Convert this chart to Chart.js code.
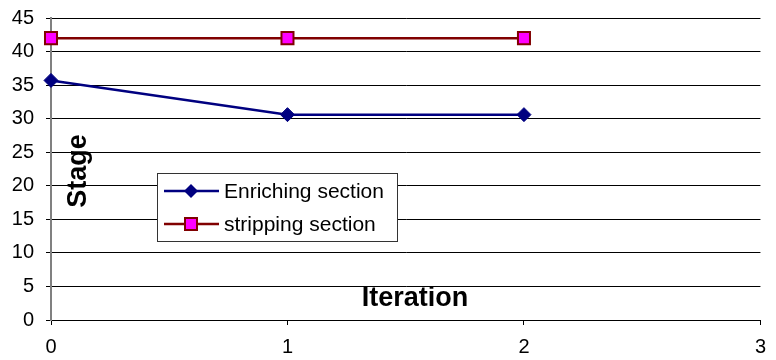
<!DOCTYPE html>
<html>
<head>
<meta charset="utf-8">
<script src="https://cdn.jsdelivr.net/npm/chart.js@4"></script>
<style>
  html, body { margin: 0; padding: 0; background: #fff; }
  #wrap { width: 776px; height: 360px; position: relative; }
</style>
</head>
<body>
<div id="wrap"><canvas id="stageChart"></canvas></div>
<script>
const iterations = [0, 1, 2];
const enriching = [35.7, 30.6, 30.6];
const stripping = [42, 42, 42];
const seriesNames = ['Enriching section', 'stripping section'];

const fontFamily = '"Liberation Sans", Arial, sans-serif';
const navy = '#000080';
const darkRed = '#800000';
const magenta = '#ff00ff';

function toPoints(xs, ys) {
    return xs.map((x, i) => ({ x: x, y: ys[i] }));
}

// legend box and axis titles sit inside the plot area, so draw them by hand
const overlayPlugin = {
    id: 'overlay',
    afterDraw(chart) {
        const ctx = chart.ctx;
        const area = chart.chartArea;
        ctx.save();

        // legend
        const bx = area.left + 106, by = area.top + 155, bw = 240, bh = 68;
        ctx.fillStyle = '#fff';
        ctx.fillRect(bx, by, bw, bh);
        ctx.strokeStyle = '#333';
        ctx.lineWidth = 1;
        ctx.strokeRect(bx + 0.5, by + 0.5, bw, bh);

        const rows = [by + 18, by + 51];
        const lx1 = bx + 7, lx2 = bx + 62, mx = bx + 34;

        ctx.lineWidth = 2.5;
        ctx.strokeStyle = navy;
        ctx.beginPath(); ctx.moveTo(lx1, rows[0]); ctx.lineTo(lx2, rows[0]); ctx.stroke();
        ctx.fillStyle = navy;
        ctx.beginPath();
        ctx.moveTo(mx, rows[0] - 7); ctx.lineTo(mx + 7, rows[0]);
        ctx.lineTo(mx, rows[0] + 7); ctx.lineTo(mx - 7, rows[0]);
        ctx.closePath(); ctx.fill();

        ctx.strokeStyle = darkRed;
        ctx.beginPath(); ctx.moveTo(lx1, rows[1]); ctx.lineTo(lx2, rows[1]); ctx.stroke();
        ctx.lineWidth = 2;
        ctx.fillStyle = magenta;
        ctx.fillRect(mx - 6, rows[1] - 6, 12, 12);
        ctx.strokeRect(mx - 6, rows[1] - 6, 12, 12);

        ctx.fillStyle = '#000';
        ctx.font = '21px ' + fontFamily;
        ctx.textBaseline = 'middle';
        ctx.textAlign = 'left';
        ctx.fillText(seriesNames[0], bx + 67, rows[0] + 1);
        ctx.fillText(seriesNames[1], bx + 67, rows[1] + 1);

        // axis titles
        ctx.font = 'bold 27px ' + fontFamily;
        ctx.textAlign = 'center';
        ctx.fillText('Iteration', area.left + 364, area.top + 281);

        ctx.translate(area.left + 28, area.top + 153);
        ctx.rotate(-Math.PI / 2);
        ctx.fillText('Stage', 0, 0);

        ctx.restore();
    }
};

new Chart(document.getElementById('stageChart'), {
    type: 'line',
    data: {
        datasets: [{
            label: seriesNames[0],
            data: toPoints(iterations, enriching),
            borderColor: navy,
            backgroundColor: navy,
            borderWidth: 2.5,
            pointStyle: 'rectRot',
            pointRadius: 7,
            pointBorderWidth: 1,
            pointBackgroundColor: navy,
            pointBorderColor: navy,
            tension: 0,
            clip: false
        }, {
            label: seriesNames[1],
            data: toPoints(iterations, stripping),
            borderColor: darkRed,
            backgroundColor: magenta,
            borderWidth: 2.5,
            pointStyle: 'rect',
            pointRadius: 8.5,
            pointBorderWidth: 2,
            pointBackgroundColor: magenta,
            pointBorderColor: darkRed,
            tension: 0,
            clip: false
        }]
    },
    options: {
        responsive: true,
        maintainAspectRatio: false,
        animation: false,
        layout: {
            padding: { top: 18, right: 12, left: 0, bottom: 0 }
        },
        scales: {
            x: {
                type: 'linear',
                min: 0,
                max: 3,
                afterFit: (scale) => { scale.height = 40; },
                grid: {
                    display: true,
                    drawOnChartArea: false,
                    drawTicks: true,
                    tickLength: 5,
                    tickColor: '#000',
                    tickWidth: 1
                },
                border: { color: '#000', width: 1 },
                ticks: {
                    stepSize: 1,
                    color: '#000',
                    padding: 10,
                    font: { family: fontFamily, size: 20 }
                }
            },
            y: {
                min: 0,
                max: 45,
                afterFit: (scale) => {
                    scale.width = 51;
                    scale.paddingTop = 0;
                    scale.paddingBottom = 0;
                },
                grid: {
                    color: '#000',
                    lineWidth: 1,
                    drawTicks: true,
                    tickLength: 5,
                    tickColor: '#000'
                },
                border: { color: '#808080', width: 2 },
                ticks: {
                    stepSize: 5,
                    color: '#000',
                    padding: 12,
                    font: { family: fontFamily, size: 20 }
                }
            }
        },
        plugins: {
            legend: { display: false },
            tooltip: { enabled: false }
        }
    },
    plugins: [overlayPlugin]
});
</script>
</body>
</html>
